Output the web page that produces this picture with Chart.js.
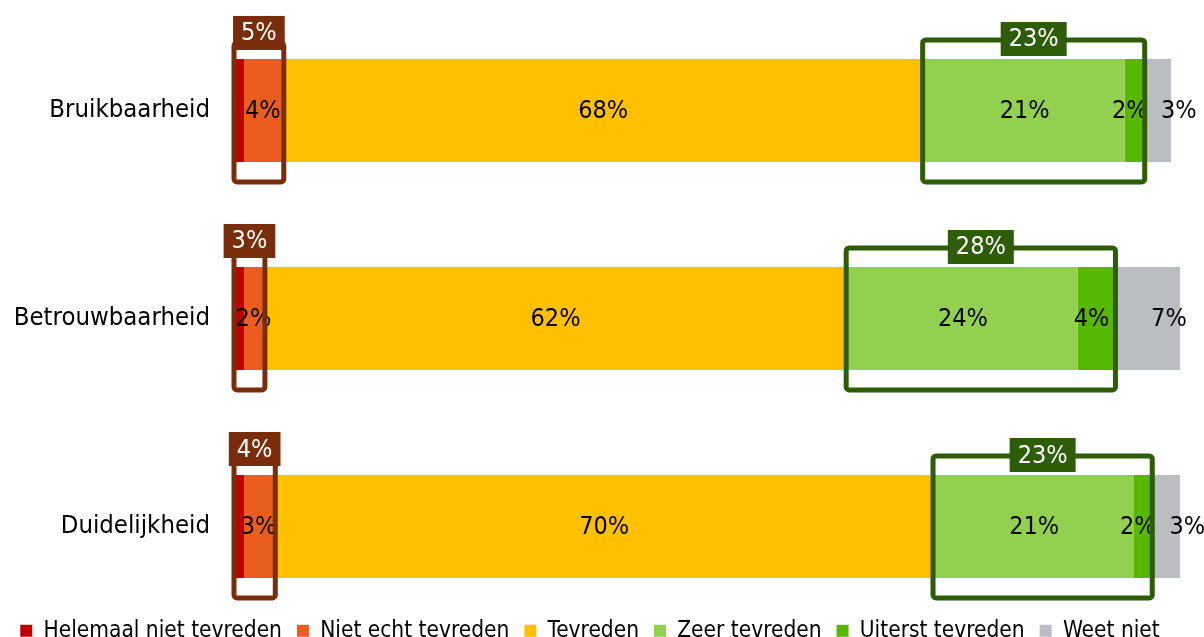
<!DOCTYPE html>
<html>
<head>
<meta charset="utf-8">
<script src="https://cdn.jsdelivr.net/npm/chart.js@4.4.1/dist/chart.umd.min.js"></script>
<style>
html, body { margin: 0; padding: 0; background: #fff; }
#wrap { position: relative; width: 1204px; height: 637px; }
</style>
</head>
<body>
<div id="wrap"><canvas id="chart"></canvas></div>
<script>
// categories + series (percent of respondents)
const categories = ['Bruikbaarheid', 'Betrouwbaarheid', 'Duidelijkheid'];
const seriesNames = ['Helemaal niet tevreden', 'Niet echt tevreden', 'Tevreden', 'Zeer tevreden', 'Uiterst tevreden', 'Weet niet'];
const helemaalNiet = [0.85, 0.85, 0.85];
const nietEcht = [4.0, 2.0, 3.1];
const tevreden = [68.1, 62.0, 70.1];
const zeerTevreden = [21.2, 24.3, 21.0];
const uiterstTevreden = [1.9, 3.8, 1.8];
const weetNiet = [3.0, 7.1, 3.2];

const colors = ['#C00000', '#EB5C1F', '#FFC000', '#92D050', '#57B800', '#BABEC2'];
const FONT = "'DejaVu Sans Condensed', 'DejaVu Sans', sans-serif";

const series = [helemaalNiet, nietEcht, tevreden, zeerTevreden, uiterstTevreden, weetNiet];

// segment labels + boxes round "niet tevreden" and "zeer/uiterst tevreden" with their total
const boxPlugin = {
    id: 'boxes',
    afterDatasetsDraw(chart) {
        const ctx = chart.ctx;
        ctx.save();
        ctx.font = '25px ' + FONT;
        ctx.textAlign = 'center';
        ctx.textBaseline = 'middle';

        chart.data.datasets.forEach((ds, d) => {
            if (ds.noLabel) return;
            chart.getDatasetMeta(d).data.forEach((el, i) => {
                const txt = Math.round(series[d][i]) + '%';
                ctx.fillStyle = '#000';
                ctx.fillText(txt, (el.x + el.base) / 2 + (ds.labelDx || 0), el.y + 1);
            });
        });

        const groups = [
            { sets: [0, 1], color: '#7A2D0B', padTop: 16, labelDy: -10 },
            { sets: [3, 4], color: '#2E5D08', padTop: 19, labelDy: -1 }
        ];
        categories.forEach((c, i) => {
            groups.forEach(g => {
                const first = chart.getDatasetMeta(g.sets[0]).data[i];
                const last = chart.getDatasetMeta(g.sets[g.sets.length - 1]).data[i];
                let total = 0;
                g.sets.forEach(d => total += series[d][i]);
                const left = first.base - 2, right = last.x + 2;
                const top = first.y - first.height / 2 - g.padTop;
                const bottom = first.y + first.height / 2 + 20;
                ctx.lineWidth = 5;
                ctx.strokeStyle = g.color;
                ctx.beginPath();
                ctx.roundRect(left, top, right - left, bottom - top, 3);
                ctx.stroke();

                const txt = Math.round(total) + '%';
                const w = ctx.measureText(txt).width + 16;
                const h = 34;
                const cx = (left + right) / 2;
                const cy = top + g.labelDy;
                ctx.fillStyle = g.color;
                ctx.fillRect(cx - w / 2, cy - h / 2, w, h);
                ctx.fillStyle = '#fff';
                ctx.fillText(txt, cx, cy + 1);
            });
        });
        ctx.restore();
    }
};

const ctx = document.getElementById('chart').getContext('2d');
const myChart = new Chart(ctx, {
    type: 'bar',
    data: {
        datasets: seriesNames.map((name, d) => ({
            label: name,
            data: series[d].map((v, i) => ({ x: v, y: i })),
            backgroundColor: colors[d],
            borderWidth: 0,
            categoryPercentage: 1,
            barPercentage: 0.495,
            noLabel: d === 0,
            labelDx: d === 5 ? 22 : (d === 4 ? -4 : 0)
        }))
    },
    options: {
        indexAxis: 'y',
        responsive: true,
        maintainAspectRatio: false,
        animation: false,
        layout: { padding: { top: 0, right: 24, bottom: -15, left: 0 } },
        scales: {
            x: {
                stacked: true,
                display: false,
                min: 0,
                max: 100
            },
            y: {
                type: 'linear',
                stacked: true,
                reverse: true,
                offset: false,
                min: -0.531,
                max: 2.375,
                afterFit(s) { s.width = 236; s.paddingTop = 0; s.paddingBottom = 0; },
                grid: { display: false, drawTicks: false, offset: false },
                border: { display: false },
                ticks: {
                    stepSize: 1,
                    includeBounds: false,
                    autoSkip: false,
                    padding: 26,
                    color: '#000',
                    font: { family: FONT, size: 25.5 },
                    callback: v => Number.isInteger(v) ? categories[v] : ''
                }
            }
        },
        plugins: {
            legend: {
                position: 'bottom',
                labels: {
                    boxWidth: 12,
                    boxHeight: 12,
                    padding: 15,
                    color: '#000',
                    font: { family: FONT, size: 22.5 }
                }
            },
            tooltip: { enabled: false }
        }
    },
    plugins: [boxPlugin]
});
</script>
</body>
</html>
